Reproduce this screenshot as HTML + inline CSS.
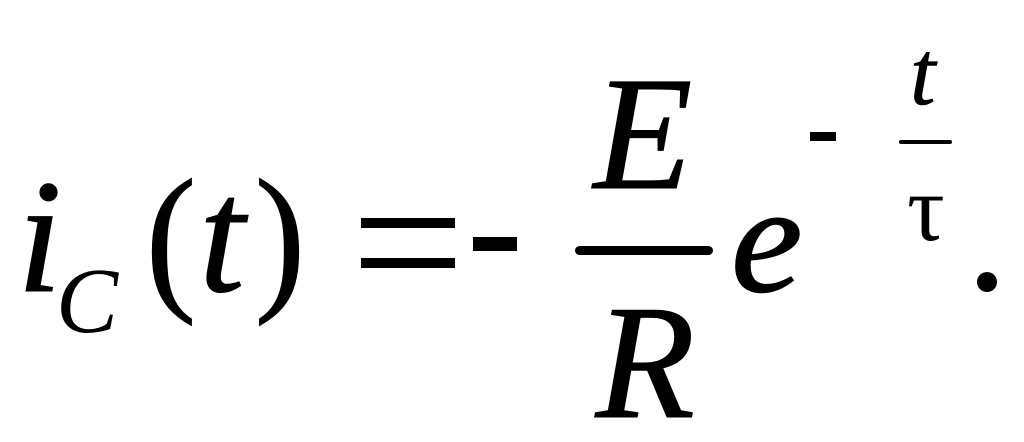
<!DOCTYPE html>
<html>
<head>
<meta charset="utf-8">
<style>
html,body{margin:0;padding:0;background:#fff;}
svg{display:block;}
text{font-family:"Liberation Serif",serif;fill:#000;}
.i{font-style:italic;}
.b{stroke:#000;stroke-width:1;}
</style>
</head>
<body>
<svg width="1024" height="442" viewBox="0 0 1024 442" xmlns="http://www.w3.org/2000/svg">
<rect width="1024" height="442" fill="#fff"/>
<text class="i b" x="17" y="291" font-size="162">i</text>
<text class="i" x="56" y="332" font-size="93">C</text>
<text class="b" font-size="168" transform="translate(145.6 291) scale(0.907 0.967)">(</text>
<text class="i b" x="199" y="291" font-size="165">t</text>
<text class="b" font-size="168" transform="translate(254.6 291) scale(0.907 0.967)">)</text>
<rect x="361" y="218" width="94" height="10" fill="#000"/>
<rect x="361" y="258" width="94" height="10" fill="#000"/>
<rect x="473" y="237" width="44" height="14" fill="#000"/>
<text class="i b" x="593.5" y="188" font-size="162">E</text>
<rect x="575" y="246" width="138" height="9" rx="4.5" fill="#000"/>
<text class="i b" x="595.5" y="417" font-size="163">R</text>
<text class="i" font-size="168" transform="translate(731 291) scale(0.96 0.92)" stroke="#000" stroke-width="1.6">e</text>
<rect x="810" y="132" width="26" height="9" fill="#000"/>
<text class="i" x="910" y="104" font-size="92" stroke="#000" stroke-width="0.6">t</text>
<rect x="899" y="140" width="53" height="4" rx="2" fill="#000"/>
<text x="907" y="240" font-size="94">τ</text>
<circle cx="987" cy="282" r="10" fill="#000"/>
</svg>
</body>
</html>
